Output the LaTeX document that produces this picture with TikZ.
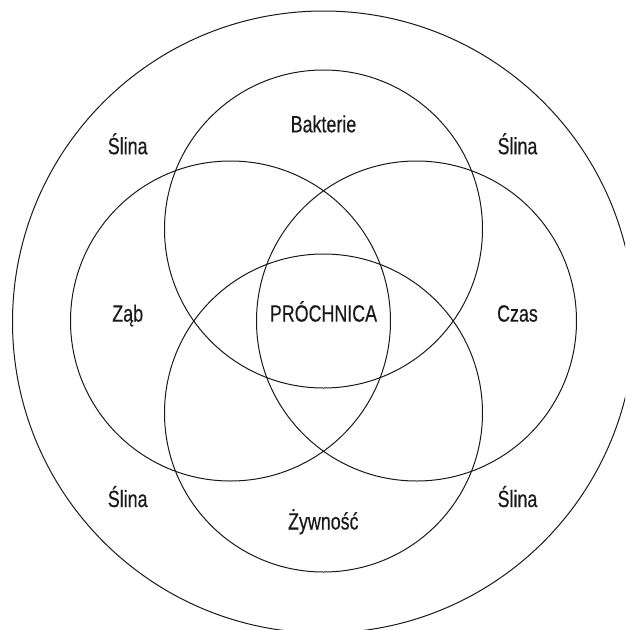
\documentclass[tikz,border=0pt]{standalone}
\usepackage{fontspec}
\setmainfont{Liberation Sans}[FakeStretch=0.76,FakeBold=0.4]
\begin{document}
\begin{tikzpicture}[x=1pt,y=-1pt,
  ring/.style={circle,draw=black!90,line width=1pt,inner sep=0pt,minimum size=#1},
  lbl/.style={anchor=base,inner sep=0pt,text=black!90,font=\fontsize{23.5}{28}\selectfont}]
\useasboundingbox (0,0) rectangle (625,630);
\clip (0,0) rectangle (625,630);
\node[ring=622pt] (outer) at (323.5,322) {};
\node[ring=318pt] (top) at (323.5,229) {};
\node[ring=320pt] (left) at (230.5,321) {};
\node[ring=320pt] (right) at (416.5,321) {};
\node[ring=318pt] (bottom) at (323.5,413) {};
\node[lbl] (bakterie) at (323.5,132.3) {Bakterie};
\node[lbl] (s1) at (127.7,154.2) {Ślina};
\node[lbl] (s2) at (517.5,154.2) {Ślina};
\node[lbl] (zab) at (127.7,321.6) {Ząb};
\node[lbl] (proch) at (323.5,321.6) {PRÓCHNICA};
\node[lbl] (czas) at (517.5,321.6) {Czas};
\node[lbl] (s3) at (127.7,507) {Ślina};
\node[lbl] (s4) at (517.5,507) {Ślina};
\node[lbl] (zyw) at (323.3,529.5) {Żywność};
\end{tikzpicture}
\end{document}
